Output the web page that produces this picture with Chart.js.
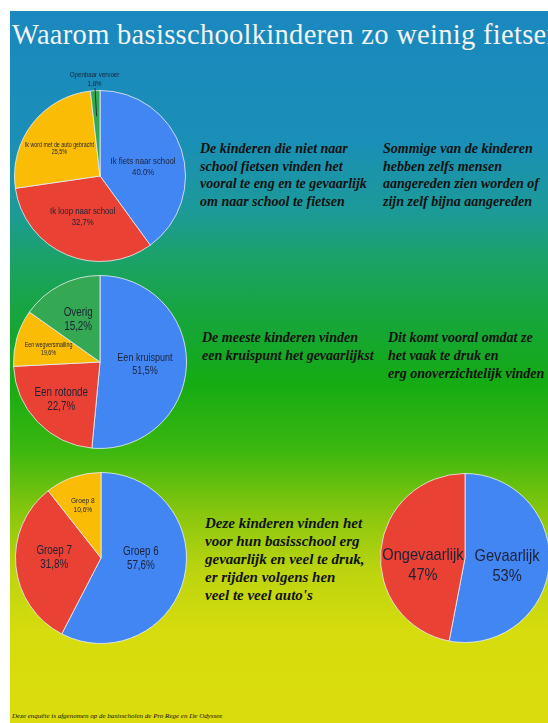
<!DOCTYPE html>
<html>
<head>
<meta charset="utf-8">
<script src="https://cdn.jsdelivr.net/npm/chart.js@4"></script>
<style>
  html, body { margin: 0; padding: 0; background: #fff; overflow: hidden; width: 548px; height: 723px; }
  #poster {
    position: absolute; left: 10px; top: 11px; width: 540px; height: 712px; overflow: hidden;
    background: linear-gradient(to bottom, #1a88bf 0px, #1a8fb7 130px, #1c9a98 200px, #1ba266 250px,
      #17a540 300px, #14ab14 370px, #3db70f 440px, #86c60e 500px, #bcd40f 560px, #d6dc0e 620px, #dcdc0c 712px);
  }
  .box { position: absolute; }
  .txt { position: absolute; font-family: "Liberation Serif", serif; font-style: italic; font-weight: bold;
         color: #111; white-space: nowrap; }
  #title { position: absolute; left: 2px; top: 8px; font-family: "Liberation Serif", serif;
           font-size: 28.5px; color: #f4f4f4; white-space: nowrap; letter-spacing: 0.3px; }
  #foot { position: absolute; left: 2px; top: 701px; font-family: "Liberation Serif", serif; font-style: italic;
          font-size: 7px; color: #111; white-space: nowrap; }
</style>
</head>
<body>
<div id="poster">
  <div id="title">Waarom basisschoolkinderen zo weinig fietsen</div>

  <div class="txt" style="left:190px; top:129px; font-size:14px; line-height:17.5px;">De kinderen die niet naar<br>school fietsen vinden het<br>vooral te eng en te gevaarlijk<br>om naar school te fietsen</div>
  <div class="txt" style="left:373px; top:129px; font-size:14px; line-height:17.5px;">Sommige van de kinderen<br>hebben zelfs mensen<br>aangereden zien worden of<br>zijn zelf bijna aangereden</div>

  <div class="txt" style="left:192px; top:318px; font-size:14px; line-height:17.5px;">De meeste kinderen vinden<br>een kruispunt het gevaarlijkst</div>
  <div class="txt" style="left:378px; top:318px; font-size:14px; line-height:18px;">Dit komt vooral omdat ze<br>het vaak te druk en<br>erg onoverzichtelijk vinden</div>

  <div class="txt" style="left:195px; top:503px; font-size:15px; line-height:18px;">Deze kinderen vinden het<br>voor hun basisschool erg<br>gevaarlijk en veel te druk,<br>er rijden volgens hen<br>veel te veel auto's</div>

  <div id="foot">Deze enquête is afgenomen op de basisscholen de Pro Rege en De Odyssee</div>
</div>

<div class="box" style="left:12px; top:62px; width:176px; height:200px;"><canvas id="pie1"></canvas></div>
<div class="box" style="left:13px; top:275px; width:174px; height:174px;"><canvas id="pie2"></canvas></div>
<div class="box" style="left:15px; top:472px; width:172px; height:172px;"><canvas id="pie3"></canvas></div>
<div class="box" style="left:380px; top:473px; width:170px; height:170px;"><canvas id="pie4"></canvas></div>

<script>
const travelLabels = ["Ik fiets naar school", "Ik loop naar school", "Ik word met de auto gebracht", "Openbaar vervoer"];
const travelValues = [40.0, 32.7, 25.5, 1.8];
const travelShown = ["40.0%", "32,7%", "25,5%", "1,8%"];

const spotLabels = ["Een kruispunt", "Een rotonde", "Een wegversmalling", "Overig"];
const spotValues = [51.5, 22.7, 10.6, 15.2];
const spotShown = ["51,5%", "22,7%", "19,6%", "15,2%"];

const groupLabels = ["Groep 6", "Groep 7", "Groep 8"];
const groupValues = [57.6, 31.8, 10.6];
const groupShown = ["57,6%", "31,8%", "10,6%"];

const schoolLabels = ["Gevaarlijk", "Ongevaarlijk"];
const schoolValues = [53, 47];
const schoolShown = ["53%", "47%"];

const BLUE = '#4286f4', RED = '#e94235', YELLOW = '#fbbc05', GREEN = '#34a853';

// squeeze text a bit so it looks like the narrow font of the poster
function narrowText(ctx, text, x, y, squeeze) {
    const w = ctx.measureText(text).width * squeeze;
    ctx.fillText(text, x, y, w);
}

// draws the name + percentage inside (or just outside) every slice
const sliceLabels = {
    id: 'sliceLabels',
    afterDatasetsDraw(chart, args, opts) {
        const ctx = chart.ctx;
        const meta = chart.getDatasetMeta(0);
        const squeeze = opts.squeeze || 0.82;
        meta.data.forEach((arc, i) => {
            const mid = (arc.startAngle + arc.endAngle) / 2;
            const f = opts.frac[i];
            const x = arc.x + Math.cos(mid) * arc.outerRadius * f;
            const y = arc.y + Math.sin(mid) * arc.outerRadius * f + (opts.dy ? opts.dy[i] : 0);
            const size = opts.sizes[i];
            ctx.save();
            ctx.fillStyle = '#1d2236';
            ctx.textAlign = 'center';
            ctx.textBaseline = 'middle';
            ctx.font = size + 'px "Liberation Sans", Arial, sans-serif';
            narrowText(ctx, chart.data.labels[i], x, y - size * 0.55, squeeze);
            narrowText(ctx, opts.shown[i], x, y + size * 0.6, squeeze);
            if (opts.leader && opts.leader[i]) {
                ctx.strokeStyle = '#1d3a2a';
                ctx.lineWidth = 1;
                ctx.beginPath();
                ctx.moveTo(arc.x + Math.cos(mid) * arc.outerRadius * 1.03, arc.y + Math.sin(mid) * arc.outerRadius * 1.03);
                ctx.lineTo(arc.x + Math.cos(mid) * arc.outerRadius * 0.7, arc.y + Math.sin(mid) * arc.outerRadius * 0.7);
                ctx.stroke();
            }
            ctx.restore();
        });
    }
};

function makePie(id, labels, values, colors, labelOpts, padding) {
    return new Chart(document.getElementById(id), {
        type: 'pie',
        data: {
            labels: labels,
            datasets: [{
                data: values,
                backgroundColor: colors,
                borderColor: 'rgba(235,240,245,0.8)',
                borderWidth: 1
            }]
        },
        options: {
            responsive: true,
            maintainAspectRatio: false,
            animation: false,
            layout: { padding: padding || 0 },
            plugins: {
                legend: { display: false },
                tooltip: { enabled: false },
                sliceLabels: labelOpts
            }
        },
        plugins: [sliceLabels]
    });
}

makePie('pie1', travelLabels, travelValues, [BLUE, RED, YELLOW, GREEN],
    { shown: travelShown, frac: [0.53, 0.52, 0.6, 1.13], sizes: [9.5, 9.5, 6.5, 7.5], dy: [5, 0, 4, 0],
      leader: [false, false, false, true] },
    { top: 28 });
makePie('pie2', spotLabels, spotValues, [BLUE, RED, YELLOW, GREEN],
    { shown: spotShown, frac: [0.52, 0.62, 0.62, 0.55], sizes: [11, 12, 6.5, 12], dy: [0, 0, 2, 0] });
makePie('pie3', groupLabels, groupValues, [BLUE, RED, YELLOW],
    { shown: groupShown, frac: [0.48, 0.55, 0.65], sizes: [12, 12, 8], dy: [-9, -5, 0] });
makePie('pie4', schoolLabels, schoolValues, [BLUE, RED],
    { shown: schoolShown, frac: [0.5, 0.5], sizes: [17, 17], dy: [4, 11], squeeze: 0.86 });
</script>
</body>
</html>
